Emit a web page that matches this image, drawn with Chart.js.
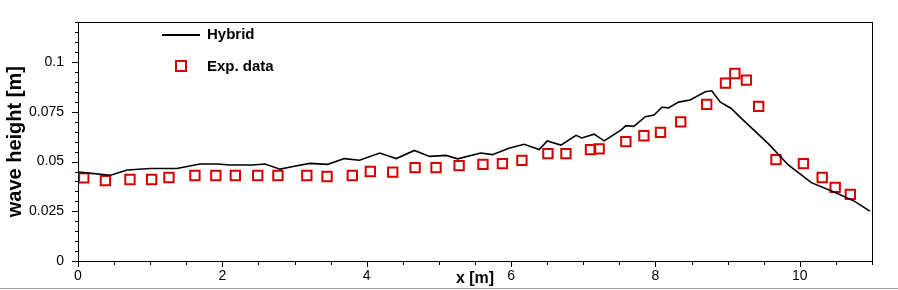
<!DOCTYPE html>
<html>
<head>
<meta charset="utf-8">
<script src="https://cdn.jsdelivr.net/npm/chart.js@4.4.1/dist/chart.umd.min.js"></script>
<style>
    html, body { margin: 0; padding: 0; background: #ffffff; }
    #wrap { position: relative; width: 898px; height: 290px; }
</style>
</head>
<body>
<div id="wrap"><canvas id="waveChart"></canvas></div>
<script>
// Hybrid model (line)
const hybridX = [0.0, 0.15, 0.45, 0.68, 1.0, 1.37, 1.69, 1.93, 2.1, 2.42, 2.59, 2.8, 2.98, 3.21, 3.46, 3.69, 3.9, 4.18, 4.41, 4.66, 4.87, 5.1, 5.26, 5.58, 5.74, 5.97, 6.18, 6.39, 6.5, 6.69, 6.9, 6.98, 7.15, 7.29, 7.53, 7.59, 7.7, 7.86, 7.98, 8.09, 8.18, 8.32, 8.48, 8.69, 8.78, 8.9, 9.05, 9.15, 9.57, 9.84, 10.16, 10.49, 10.76, 10.97];
const hybridY = [0.0447, 0.0442, 0.0431, 0.0458, 0.0465, 0.0465, 0.0488, 0.0488, 0.0483, 0.0483, 0.0488, 0.0462, 0.0475, 0.0491, 0.0486, 0.0515, 0.0507, 0.0543, 0.0515, 0.0556, 0.0526, 0.0531, 0.0514, 0.0543, 0.0535, 0.0567, 0.0587, 0.0561, 0.0604, 0.0583, 0.0632, 0.0619, 0.0638, 0.0604, 0.0661, 0.0681, 0.0677, 0.0726, 0.0734, 0.0773, 0.0770, 0.0799, 0.0810, 0.0851, 0.0856, 0.0799, 0.0767, 0.0731, 0.0588, 0.0483, 0.0394, 0.0345, 0.0300, 0.0251];

// Experimental data (squares)
const expX = [0.08, 0.38, 0.72, 1.02, 1.26, 1.62, 1.91, 2.18, 2.49, 2.77, 3.17, 3.45, 3.80, 4.05, 4.36, 4.67, 4.96, 5.28, 5.61, 5.88, 6.15, 6.51, 6.76, 7.10, 7.22, 7.59, 7.84, 8.07, 8.35, 8.71, 8.97, 9.10, 9.26, 9.43, 9.67, 10.05, 10.31, 10.49, 10.70];
const expY = [0.0418, 0.0404, 0.0410, 0.0410, 0.0420, 0.0430, 0.0430, 0.0430, 0.0430, 0.0430, 0.0430, 0.0425, 0.0430, 0.0450, 0.0447, 0.0470, 0.0470, 0.0480, 0.0486, 0.0490, 0.0506, 0.0540, 0.0540, 0.0560, 0.0564, 0.0600, 0.0630, 0.0647, 0.0700, 0.0788, 0.0895, 0.0943, 0.0910, 0.0778, 0.0510, 0.0490, 0.0420, 0.0370, 0.0335];

// Axis ranges and tick steps
const xMin = 0, xMax = 11, xMajor = 2, xMinor = 0.5;
const yMin = 0, yMax = 0.12, yMajor = 0.025, yMinor = 0.005;

const RED = '#d40000';
const TICK_FONT = { family: '"Liberation Sans", Arial, sans-serif', size: 14 };

function isMajor(value, step) {
    const r = value / step;
    return Math.abs(r - Math.round(r)) < 1e-6;
}

function toPoints(xs, ys) {
    return xs.map((x, i) => ({ x: x, y: ys[i] }));
}

// Frame, tick marks, legend
const framePlugin = {
    id: 'frame',
    afterDraw(chart) {
        const { ctx, chartArea: a } = chart;
        const xs = chart.scales.x, ys = chart.scales.y;
        ctx.save();
        ctx.strokeStyle = '#000000';
        ctx.lineWidth = 1;
        ctx.strokeRect(Math.round(a.left) + 0.5, Math.round(a.top) + 0.5,
            Math.round(a.right - a.left), Math.round(a.bottom - a.top));

        ctx.beginPath();
        xs.ticks.forEach(t => {
            const px = Math.round(xs.getPixelForValue(t.value)) + 0.5;
            const len = isMajor(t.value, xMajor) ? 6 : 4;
            ctx.moveTo(px, a.bottom);
            ctx.lineTo(px, a.bottom + len);
        });
        ys.ticks.forEach(t => {
            const py = Math.round(ys.getPixelForValue(t.value)) + 0.5;
            const len = isMajor(t.value, yMajor) ? 6 : 3;
            ctx.moveTo(a.left, py);
            ctx.lineTo(a.left - len, py);
        });
        ctx.stroke();

        // legend
        ctx.font = 'bold 15px "Liberation Sans", Arial, sans-serif';
        ctx.textBaseline = 'middle';
        ctx.fillStyle = '#000000';
        ctx.lineWidth = 2;
        ctx.beginPath();
        ctx.moveTo(162, 35);
        ctx.lineTo(200, 35);
        ctx.stroke();
        ctx.fillText('Hybrid', 207, 35);
        ctx.strokeStyle = RED;
        ctx.strokeRect(176, 61, 10, 10);
        ctx.fillText('Exp. data', 207, 67);

        // bottom frame line
        ctx.strokeStyle = '#a0a0a0';
        ctx.lineWidth = 1;
        ctx.beginPath();
        ctx.moveTo(0, 288.5);
        ctx.lineTo(chart.width, 288.5);
        ctx.stroke();
        ctx.restore();
    }
};

const ctx = document.getElementById('waveChart');

new Chart(ctx, {
    type: 'scatter',
    data: {
        datasets: [
            {
                label: 'Hybrid',
                data: toPoints(hybridX, hybridY),
                showLine: true,
                borderColor: '#000000',
                borderWidth: 1.6,
                pointRadius: 0,
                tension: 0
            },
            {
                label: 'Exp. data',
                data: toPoints(expX, expY),
                showLine: false,
                pointStyle: 'rect',
                pointRadius: 6.6,
                borderColor: RED,
                backgroundColor: 'rgba(0,0,0,0)',
                pointBorderWidth: 2
            }
        ]
    },
    options: {
        responsive: true,
        maintainAspectRatio: false,
        animation: false,
        layout: { padding: { top: 14, right: 26, left: 0, bottom: 0 } },
        plugins: {
            legend: { display: false },
            tooltip: { enabled: false }
        },
        scales: {
            x: {
                type: 'linear',
                min: xMin,
                max: xMax,
                afterFit: function(scale) { scale.height = 29; },
                border: { display: false },
                grid: { display: false, drawTicks: false },
                ticks: {
                    stepSize: xMinor,
                    autoSkip: false,
                    maxRotation: 0,
                    padding: 7,
                    color: '#000000',
                    font: TICK_FONT,
                    callback: function(value) {
                        return isMajor(value, xMajor) ? String(Math.round(value)) : '';
                    }
                },
                title: {
                    display: true,
                    text: 'x [m]',
                    color: '#000000',
                    font: { family: '"Liberation Sans", Arial, sans-serif', size: 16, weight: 'bold' },
                    padding: { top: 0, bottom: 1.5 }
                }
            },
            y: {
                type: 'linear',
                min: yMin,
                max: yMax,
                afterFit: function(scale) { scale.width = 78; },
                border: { display: false },
                grid: { display: false, drawTicks: false },
                ticks: {
                    stepSize: yMinor,
                    autoSkip: false,
                    padding: 14,
                    color: '#000000',
                    font: TICK_FONT,
                    callback: function(value) {
                        if (!isMajor(value, yMajor)) return '';
                        return String(parseFloat(value.toFixed(3)));
                    }
                },
                title: {
                    display: true,
                    text: 'wave height [m]',
                    color: '#000000',
                    font: { family: '"Liberation Sans", Arial, sans-serif', size: 20, weight: 'bold' },
                    padding: { top: 3, bottom: 0 }
                }
            }
        }
    },
    plugins: [framePlugin]
});
</script>
</body>
</html>
